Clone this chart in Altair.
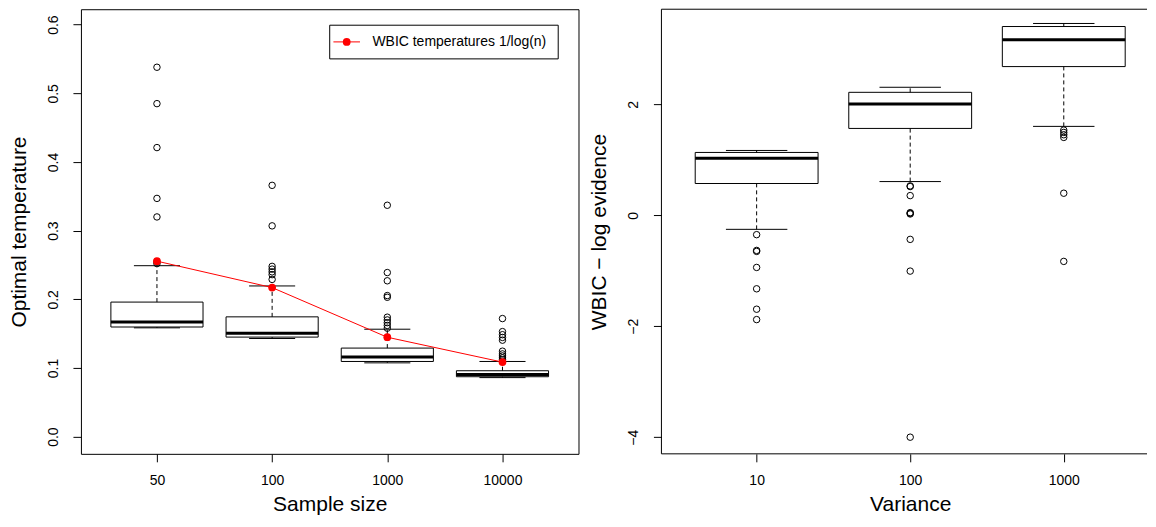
import json
import altair as alt
import pandas as pd

FONT = "Liberation Sans"

# ---------------- Left panel: optimal temperature vs sample size ----------------
size_labels = ["50", "100", "1000", "10000"]
temp_whisk_lo = [0.1585, 0.1430, 0.1075, 0.0860]
temp_q1 = [0.1597, 0.1450, 0.1095, 0.0873]
temp_median = [0.1670, 0.1505, 0.1160, 0.0907]
temp_q3 = [0.1960, 0.1745, 0.1290, 0.0960]
temp_whisk_hi = [0.2490, 0.2195, 0.1565, 0.1095]
temp_outliers = [
    [0.538, 0.485, 0.421, 0.347, 0.320, 0.255, 0.252],
    [0.366, 0.307, 0.248, 0.244, 0.240, 0.236, 0.229],
    [0.337, 0.239, 0.227, 0.2055, 0.203, 0.174, 0.170, 0.166, 0.162, 0.158],
    [0.172, 0.153, 0.1485, 0.1445, 0.1405, 0.1245, 0.1205, 0.1176, 0.1147, 0.112],
]
wbic_temperature = [0.2556, 0.2171, 0.1448, 0.1086]
temp_ticks = [0.0, 0.1, 0.2, 0.3, 0.4, 0.5, 0.6]
legend_label = "WBIC temperatures 1/log(n)"

# ---------------- Right panel: WBIC - log evidence vs variance ----------------
var_labels = ["10", "100", "1000"]
ev_whisk_lo = [-0.253, 0.608, 1.603]
ev_q1 = [0.573, 1.566, 2.681]
ev_median = [1.030, 2.006, 3.163]
ev_q3 = [1.133, 2.217, 3.403]
ev_whisk_hi = [1.169, 2.308, 3.458]
ev_outliers = [
    [-0.349, -0.633, -0.651, -0.940, -1.325, -1.693, -1.880],
    [0.530, 0.518, 0.355, 0.048, 0.036, 0.024, -0.434, -1.006, -4.0],
    [1.536, 1.494, 1.452, 1.404, 0.398, -0.831],
]
ev_ticks = [-4, -2, 0, 2]

W_LEFT, W_RIGHT, H = 498, 486, 445


def axis_common():
    return dict(
        tickSize=8, tickColor="black", tickWidth=1, domain=False, grid=False,
        labelFont=FONT, labelFontSize=14, labelColor="black",
        labelOverlap=False, labelFlush=False,
        titleFont=FONT, titleFontSize=21, titleFontWeight="normal", titleColor="black",
        titleBaseline="alphabetic",
    )


def box_panel(labels, lo, q1, med, q3, hi, outliers, x_title, y_title,
              x_domain, y_domain, y_ticks, y_format, width):
    pos = list(range(1, len(labels) + 1))
    stats = pd.DataFrame({"pos": pos, "label": labels, "lo": lo, "q1": q1,
                          "med": med, "q3": q3, "hi": hi})
    out = pd.DataFrame([{"pos": p, "value": v}
                        for p, vals in zip(pos, outliers) for v in vals])
    x_axis = alt.Axis(values=pos, labelExpr=f"{json.dumps(labels)}[round(datum.value) - 1]",
                      title=x_title, labelPadding=11.5, titleX=W_LEFT / 2, titleY=57,
                      **axis_common())
    y_axis = alt.Axis(values=y_ticks, format=y_format, title=y_title, labelAngle=-90,
                      labelPadding=12.5, titleX=-55.5, titleY=H / 2, titleAngle=-90,
                      **axis_common())
    xs = alt.Scale(domain=x_domain, nice=False, zero=False)
    ys = alt.Scale(domain=y_domain, nice=False, zero=False)

    def X(f):
        return alt.X(f, type="quantitative", scale=xs, axis=x_axis)

    def Y(f):
        return alt.Y(f, type="quantitative", scale=ys, axis=y_axis)

    base = alt.Chart(stats).transform_calculate(
        x1="datum.pos - 0.4", x2="datum.pos + 0.4",
        c1="datum.pos - 0.2", c2="datum.pos + 0.2")

    box = base.mark_rect(fill="white", stroke="black", strokeWidth=1).encode(
        x=X("x1"), x2="x2:Q", y=Y("q1"), y2="q3:Q")
    median = base.mark_rule(color="black", strokeWidth=3).encode(
        x=X("x1"), x2="x2:Q", y=Y("med"))
    whisk_hi = base.mark_rule(color="black", strokeWidth=1, strokeDash=[4, 3]).encode(
        x=X("pos"), y=Y("q3"), y2="hi:Q")
    whisk_lo = base.mark_rule(color="black", strokeWidth=1, strokeDash=[4, 3]).encode(
        x=X("pos"), y=Y("lo"), y2="q1:Q")
    cap_hi = base.mark_rule(color="black", strokeWidth=1).encode(
        x=X("c1"), x2="c2:Q", y=Y("hi"))
    cap_lo = base.mark_rule(color="black", strokeWidth=1).encode(
        x=X("c1"), x2="c2:Q", y=Y("lo"))
    pts = alt.Chart(out).mark_point(shape="circle", filled=False, color="black",
                                    strokeWidth=1, size=42, opacity=1).encode(
        x=X("pos"), y=Y("value"))
    return [box, whisk_hi, whisk_lo, cap_hi, cap_lo, median, pts], X, Y


left_layers, LX, LY = box_panel(
    size_labels, temp_whisk_lo, temp_q1, temp_median, temp_q3, temp_whisk_hi,
    temp_outliers, "Sample size", "Optimal temperature",
    [0.34, 4.66], [-0.025, 0.6225], temp_ticks, ".1f", W_LEFT)

wbic_df = pd.DataFrame({"pos": list(range(1, len(size_labels) + 1)),
                        "temp": wbic_temperature})
wbic_line = alt.Chart(wbic_df).mark_line(color="red", strokeWidth=1).encode(
    x=LX("pos"), y=LY("temp"))
wbic_pts = alt.Chart(wbic_df).mark_point(shape="circle", filled=True, color="red",
                                         size=60, opacity=1).encode(
    x=LX("pos"), y=LY("temp"))

leg_df = pd.DataFrame({"label": [legend_label]})
leg_base = alt.Chart(leg_df)
leg_box = leg_base.mark_rect(fill="white", stroke="black", strokeWidth=1).encode(
    x=alt.value(249), x2=alt.value(477.7), y=alt.value(16), y2=alt.value(49.7))
leg_line = leg_base.mark_rule(color="red", strokeWidth=1).encode(
    x=alt.value(252.7), x2=alt.value(279.3), y=alt.value(32.7))
leg_pt = leg_base.mark_point(shape="circle", filled=True, color="red", size=60,
                             opacity=1).encode(x=alt.value(266), y=alt.value(32.7))
leg_txt = leg_base.mark_text(align="left", baseline="middle", font=FONT, fontSize=14,
                             color="black").encode(
    x=alt.value(291.7), y=alt.value(33), text="label:N")

left = alt.layer(*left_layers, wbic_line, wbic_pts, leg_box, leg_line, leg_pt,
                 leg_txt).properties(width=W_LEFT, height=H)

# Right panel: its right edge runs past the picture in the reference, so only the
# visible part of the x range is shown and the frame is drawn on three sides.
right_layers, RX, RY = box_panel(
    var_labels, ev_whisk_lo, ev_q1, ev_median, ev_q3, ev_whisk_hi, ev_outliers,
    "Variance", "WBIC \u2212 log evidence",
    [0.38, 3.542], [-4.3, 3.715], ev_ticks, "d", W_RIGHT)
frame_base = alt.Chart(pd.DataFrame({"side": ["frame"]}))
frame_top = frame_base.mark_rule(color="black", strokeWidth=1).encode(
    x=alt.value(0), x2=alt.value(W_RIGHT), y=alt.value(0))
frame_bottom = frame_base.mark_rule(color="black", strokeWidth=1).encode(
    x=alt.value(0), x2=alt.value(W_RIGHT), y=alt.value(H))
frame_left = frame_base.mark_rule(color="black", strokeWidth=1).encode(
    x=alt.value(0), y=alt.value(0), y2=alt.value(H))
right = alt.layer(*right_layers, frame_top, frame_bottom, frame_left).properties(
    width=W_RIGHT, height=H, view=alt.ViewBackground(stroke="transparent"))

chart = alt.hconcat(left, right, spacing=83, bounds="flush").properties(
    padding={"left": 0, "top": 0, "right": 0, "bottom": 0}
).configure(font=FONT).configure_view(stroke="black", strokeWidth=1)

chart.save("out.html", embed_options={"renderer": "svg", "actions": False})
